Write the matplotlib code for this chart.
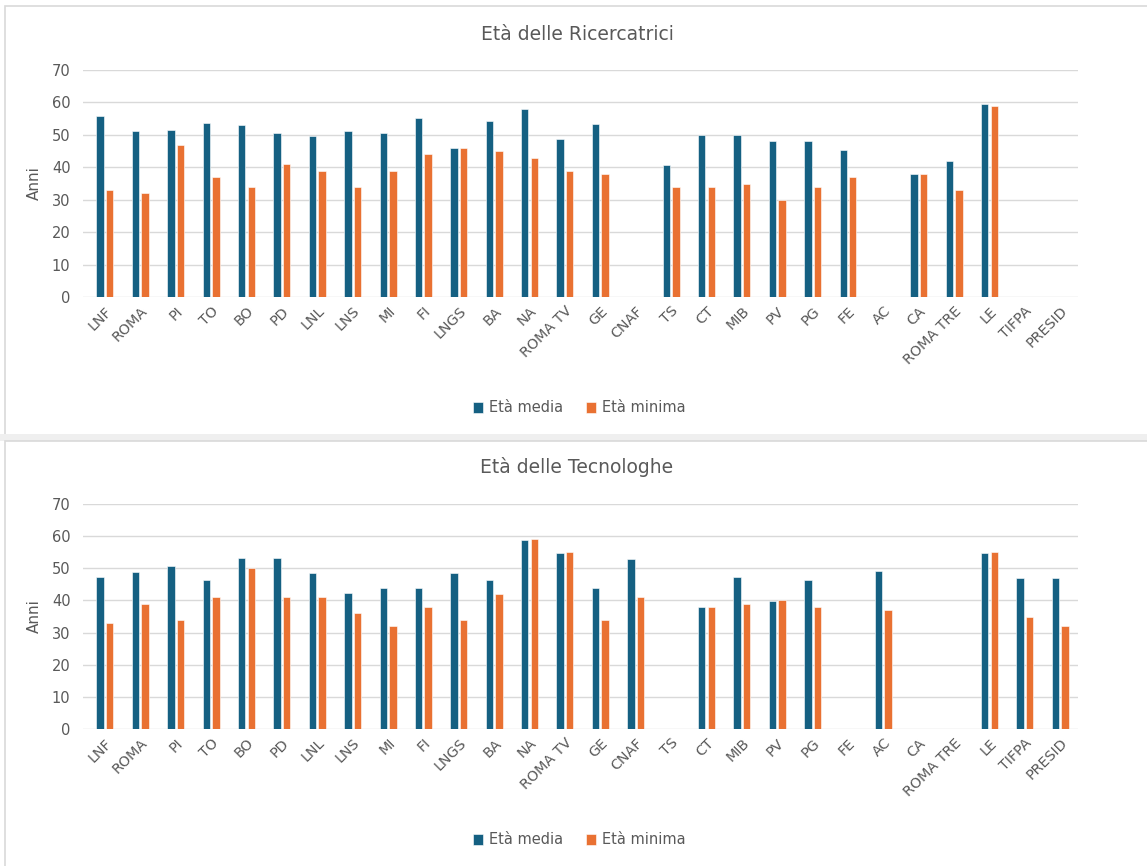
import numpy as np
import matplotlib
matplotlib.use("Agg")
import matplotlib.pyplot as plt
from matplotlib.patches import Rectangle

nan = np.nan

# dati
sedi = ["LNF", "ROMA", "PI", "TO", "BO", "PD", "LNL", "LNS", "MI", "FI", "LNGS", "BA", "NA",
        "ROMA TV", "GE", "CNAF", "TS", "CT", "MIB", "PV", "PG", "FE", "AC", "CA", "ROMA TRE",
        "LE", "TIFPA", "PRESID"]

ric_media = [55.7, 51.1, 51.5, 53.7, 53.0, 50.5, 49.8, 51.1, 50.5, 55.3, 45.9, 54.4, 57.9,
             48.7, 53.5, nan, 40.8, 49.9, 49.9, 48.1, 48.1, 45.3, nan, 37.9, 41.9,
             59.4, nan, nan]
ric_minima = [33, 32, 47, 37, 34, 41, 39, 34, 39, 44, 46, 45, 43,
              39, 38, nan, 34, 34, 35, 30, 34, 37, nan, 38, 33,
              59, nan, nan]

tec_media = [47.4, 48.9, 50.8, 46.5, 53.3, 53.1, 48.4, 42.3, 43.8, 43.8, 48.5, 46.3, 58.9,
             54.9, 43.8, 52.9, nan, 37.9, 47.4, 39.9, 46.3, nan, 49.2, nan, nan,
             54.9, 46.9, 46.9]
tec_minima = [33, 39, 34, 41, 50, 41, 41, 36, 32, 38, 34, 42, 59,
              55, 34, 41, nan, 38, 39, 40, 38, nan, 37, nan, nan,
              55, 35, 32]

blu = "#156082"
arancio = "#E97132"
grigio_testo = "#595959"
grigio_linee = "#d9d9d9"

W, H = 1147, 866
fig = plt.figure(figsize=(W / 100, H / 100), dpi=100)
fig.patch.set_facecolor("white")


def px(x0, y0, x1, y1):
    # rettangolo in pixel (origine in alto a sinistra) -> frazioni della figura
    return [x0 / W, 1 - y1 / H, (x1 - x0) / W, (y1 - y0) / H]


# cornici dei due riquadri
fig.add_artist(Rectangle((5 / W, 1 - 435 / H), 1.0, 429 / H, transform=fig.transFigure,
                         facecolor="white", edgecolor=grigio_linee, lw=1.2, zorder=0))
fig.add_artist(Rectangle((0, 1 - 441 / H), 1.0, 7 / H, transform=fig.transFigure,
                         facecolor="#efefef", edgecolor="none", zorder=0))
fig.add_artist(Rectangle((5 / W, -0.01), 1.0, 1 - 441 / H + 0.01, transform=fig.transFigure,
                         facecolor="white", edgecolor=grigio_linee, lw=1.2, zorder=0))

x = np.arange(len(sedi))
w = 0.21
off = 0.135


def grafico(rect, media, minima, titolo, y_titolo, y_legenda):
    ax = fig.add_axes(rect)
    ax.bar(x - off, media, w, color=blu, edgecolor="white", linewidth=0.4,
           label="Età media", zorder=3)
    ax.bar(x + off, minima, w, color=arancio, edgecolor="white", linewidth=0.4,
           label="Età minima", zorder=3)
    ax.set_xlim(-0.62, len(sedi) - 0.5)
    ax.set_ylim(0, 70)
    ax.set_yticks(range(0, 71, 10))
    ax.yaxis.grid(True, color=grigio_linee, lw=1.0, zorder=0)
    ax.set_axisbelow(True)
    for s in ax.spines.values():
        s.set_visible(False)
    ax.tick_params(length=0, colors=grigio_testo, labelsize=10.5)
    ax.tick_params(axis="y", pad=9)
    ax.set_xticks(x)
    ax.set_xticklabels(sedi, rotation=45, ha="right", rotation_mode="anchor",
                       fontsize=10.3, color=grigio_testo)
    ax.tick_params(axis="x", pad=5)
    ax.set_ylabel("Anni", fontsize=11, color=grigio_testo, labelpad=7)
    fig.text(0.503, 1 - y_titolo / H, titolo, ha="center", va="center",
             fontsize=13.5, color=grigio_testo)
    h, l = ax.get_legend_handles_labels()
    fig.legend(handles=h, labels=l,
               loc="center", bbox_to_anchor=(0.505, 1 - y_legenda / H), ncol=2,
               frameon=False, fontsize=10.5, handlelength=0.7, handleheight=0.7,
               handletextpad=0.4, columnspacing=1.6, labelcolor=grigio_testo)
    return ax


grafico(px(83, 70, 1078, 297), ric_media, ric_minima, "Età delle Ricercatrici", 35, 408)
grafico(px(83, 504, 1078, 729), tec_media, tec_minima, "Età delle Tecnologhe", 467, 840)

fig.savefig("out.png", dpi=100, facecolor="white")
